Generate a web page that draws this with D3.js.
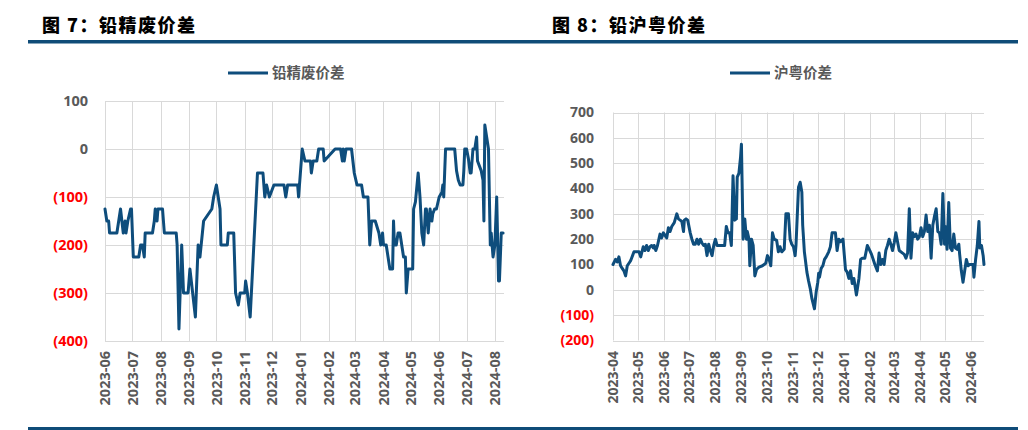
<!DOCTYPE html>
<html>
<head>
<meta charset="utf-8">
<script src="https://cdn.jsdelivr.net/npm/d3@7"></script>
<style>
  html, body { margin: 0; padding: 0; background: #fff; }
  svg { display: block; }
</style>
</head>
<body>
<svg id="chart" width="1028" height="430"></svg>
<script>
// ---------------- DATA ----------------
const leftTitle = "图 7：铅精废价差";
const leftSeriesName = "铅精废价差";
const leftYTicks = [100, 0, -100, -200, -300, -400];
const leftDates = ["2023-06-01","2023-06-03","2023-06-05","2023-06-06","2023-06-14","2023-06-18","2023-06-21","2023-06-23","2023-06-24","2023-06-26","2023-06-29","2023-06-30","2023-07-02","2023-07-08","2023-07-10","2023-07-12","2023-07-14","2023-07-15","2023-07-23","2023-07-25","2023-07-26","2023-07-28","2023-07-29","2023-08-03","2023-08-05","2023-08-18","2023-08-19","2023-08-21","2023-08-24","2023-08-26","2023-08-31","2023-09-02","2023-09-08","2023-09-11","2023-09-13","2023-09-17","2023-09-26","2023-09-28","2023-10-01","2023-10-03","2023-10-05","2023-10-06","2023-10-13","2023-10-14","2023-10-20","2023-10-22","2023-10-25","2023-10-27","2023-11-01","2023-11-02","2023-11-04","2023-11-07","2023-11-11","2023-11-15","2023-11-21","2023-11-23","2023-11-25","2023-11-28","2023-12-03","2023-12-14","2023-12-16","2023-12-18","2023-12-29","2023-12-30","2024-01-03","2024-01-06","2024-01-12","2024-01-13","2024-01-15","2024-01-19","2024-01-21","2024-01-26","2024-01-27","2024-02-08","2024-02-14","2024-02-16","2024-02-17","2024-02-18","2024-02-20","2024-02-26","2024-02-29","2024-03-03","2024-03-08","2024-03-10","2024-03-15","2024-03-17","2024-03-19","2024-03-23","2024-03-27","2024-03-29","2024-03-31","2024-04-01","2024-04-04","2024-04-06","2024-04-08","2024-04-11","2024-04-12","2024-04-13","2024-04-15","2024-04-17","2024-04-19","2024-04-23","2024-04-25","2024-04-26","2024-04-28","2024-05-03","2024-05-04","2024-05-06","2024-05-09","2024-05-11","2024-05-13","2024-05-15","2024-05-17","2024-05-18","2024-05-20","2024-05-22","2024-05-24","2024-05-25","2024-05-27","2024-05-29","2024-06-01","2024-06-04","2024-06-05","2024-06-06","2024-06-07","2024-06-08","2024-06-18","2024-06-20","2024-06-22","2024-06-24","2024-06-27","2024-06-28","2024-06-29","2024-07-01","2024-07-03","2024-07-05","2024-07-06","2024-07-08","2024-07-10","2024-07-12","2024-07-13","2024-07-17","2024-07-19","2024-07-20","2024-07-21","2024-07-23","2024-07-25","2024-07-27","2024-07-28","2024-07-30","2024-08-01","2024-08-03","2024-08-05","2024-08-06","2024-08-08","2024-08-10"];
const leftValues = [-125,-150,-150,-175,-175,-125,-175,-150,-175,-150,-125,-125,-225,-225,-200,-200,-225,-175,-175,-150,-125,-150,-125,-125,-175,-175,-200,-375,-200,-300,-300,-250,-350,-200,-225,-150,-125,-100,-75,-100,-125,-200,-200,-175,-175,-300,-325,-300,-300,-275,-300,-350,-200,-50,-50,-100,-75,-100,-75,-75,-100,-75,-75,-100,0,-25,-25,-50,-25,-25,0,0,-25,0,0,-25,0,-25,0,0,-50,-75,-75,-100,-100,-200,-150,-150,-175,-200,-175,-200,-200,-225,-250,-250,-150,-200,-200,-175,-175,-225,-225,-300,-250,-250,-125,-110,-50,-100,-175,-200,-125,-125,-175,-125,-150,-135,-125,-125,-100,-90,-75,-100,-50,0,0,-45,-65,-75,-75,-45,0,0,-20,-50,-50,0,0,25,-25,-45,-65,-150,50,25,0,-200,-175,-225,-200,-100,-275,-275,-175,-175];

const rightTitle = "图 8：铅沪粤价差";
const rightSeriesName = "沪粤价差";
const rightYTicks = [700, 600, 500, 400, 300, 200, 100, 0, -100, -200];
const rightDates = ["2023-04-01","2023-04-04","2023-04-06","2023-04-08","2023-04-10","2023-04-12","2023-04-14","2023-04-16","2023-04-18","2023-04-21","2023-04-22","2023-04-26","2023-04-30","2023-05-02","2023-05-04","2023-05-07","2023-05-09","2023-05-11","2023-05-13","2023-05-15","2023-05-17","2023-05-19","2023-05-20","2023-05-22","2023-05-24","2023-05-27","2023-05-29","2023-05-31","2023-06-02","2023-06-04","2023-06-06","2023-06-08","2023-06-10","2023-06-13","2023-06-16","2023-06-18","2023-06-20","2023-06-22","2023-06-24","2023-06-25","2023-06-27","2023-06-29","2023-07-02","2023-07-04","2023-07-06","2023-07-08","2023-07-10","2023-07-12","2023-07-14","2023-07-16","2023-07-18","2023-07-20","2023-07-22","2023-07-24","2023-07-26","2023-07-28","2023-07-30","2023-08-01","2023-08-03","2023-08-12","2023-08-14","2023-08-16","2023-08-18","2023-08-20","2023-08-22","2023-08-24","2023-08-26","2023-08-27","2023-08-29","2023-08-31","2023-09-01","2023-09-03","2023-09-05","2023-09-07","2023-09-08","2023-09-10","2023-09-11","2023-09-13","2023-09-15","2023-09-17","2023-09-19","2023-09-22","2023-09-26","2023-09-30","2023-10-02","2023-10-04","2023-10-06","2023-10-08","2023-10-10","2023-10-13","2023-10-15","2023-10-17","2023-10-19","2023-10-22","2023-10-24","2023-10-27","2023-10-29","2023-10-31","2023-11-02","2023-11-04","2023-11-05","2023-11-08","2023-11-10","2023-11-12","2023-11-13","2023-11-15","2023-11-18","2023-11-20","2023-11-22","2023-11-24","2023-11-27","2023-11-29","2023-12-01","2023-12-02","2023-12-03","2023-12-05","2023-12-07","2023-12-09","2023-12-11","2023-12-14","2023-12-16","2023-12-18","2023-12-22","2023-12-24","2023-12-26","2023-12-28","2023-12-31","2024-01-02","2024-01-03","2024-01-05","2024-01-07","2024-01-09","2024-01-11","2024-01-13","2024-01-16","2024-01-19","2024-01-21","2024-01-23","2024-01-26","2024-01-29","2024-02-01","2024-02-03","2024-02-07","2024-02-10","2024-02-12","2024-02-14","2024-02-16","2024-02-18","2024-02-20","2024-02-22","2024-02-24","2024-02-26","2024-02-28","2024-03-01","2024-03-03","2024-03-05","2024-03-07","2024-03-11","2024-03-13","2024-03-15","2024-03-17","2024-03-19","2024-03-21","2024-03-23","2024-03-25","2024-03-27","2024-03-29","2024-03-31","2024-04-02","2024-04-04","2024-04-06","2024-04-08","2024-04-10","2024-04-12","2024-04-14","2024-04-16","2024-04-18","2024-04-20","2024-04-22","2024-04-24","2024-04-26","2024-04-28","2024-04-30","2024-05-01","2024-05-03","2024-05-05","2024-05-07","2024-05-09","2024-05-11","2024-05-13","2024-05-15","2024-05-17","2024-05-18","2024-05-20","2024-05-22","2024-05-24","2024-05-26","2024-05-28","2024-05-30","2024-06-03","2024-06-04","2024-06-06","2024-06-08","2024-06-10","2024-06-11","2024-06-13","2024-06-15","2024-06-16"];
const rightValues = [100,120,110,130,95,85,75,55,95,110,115,150,150,150,130,170,155,175,155,170,175,165,175,155,175,220,205,225,215,205,245,230,250,265,300,280,275,270,230,275,280,275,225,200,180,180,200,180,200,185,175,180,135,180,155,135,175,200,175,175,250,225,225,175,450,275,280,445,460,525,575,200,280,200,230,200,95,200,175,55,80,90,95,105,135,120,95,225,200,195,150,170,150,160,300,300,200,180,170,135,175,405,425,385,255,150,70,35,5,-35,-75,-10,30,65,50,85,95,120,130,150,170,225,225,155,200,190,200,120,80,70,45,75,25,45,-20,45,120,125,125,175,155,140,100,75,145,100,120,100,155,175,200,180,155,185,225,190,155,145,140,125,145,320,125,225,210,220,200,210,245,210,230,295,230,255,125,255,290,320,230,225,180,380,180,250,160,345,165,155,220,165,160,180,140,75,30,75,120,95,100,100,50,120,175,270,165,175,135,100];

// ---------------- DRAWING ----------------
const svg = d3.select("#chart");
const parse = d3.timeParse("%Y-%m-%d");
const LINE_COLOR = "#0e4d7c";
const RULE_COLOR = "#0f4c78";
const GRID = "#d9d9d9";
const LABEL_GRAY = "#595959";
const NUM_FONT = "'Open Sans', 'Liberation Sans', sans-serif";
const CJK_FONT = "'Noto Sans CJK SC', sans-serif";

// header and footer rules
svg.append("rect").attr("x", 28).attr("y", 40).attr("width", 990).attr("height", 3.5).attr("fill", RULE_COLOR);
svg.append("rect").attr("x", 28).attr("y", 427).attr("width", 990).attr("height", 3).attr("fill", RULE_COLOR);

function fmtY(v) { return v < 0 ? "(" + Math.abs(v) + ")" : String(v); }

function drawChart(cfg) {
  const g = svg.append("g");
  // title
  g.append("text").attr("x", cfg.titleX).attr("y", 32)
    .attr("font-family", CJK_FONT).attr("font-weight", 900).attr("font-size", 18)
    .attr("letter-spacing", 1.5).attr("fill", "#000").text(cfg.title);

  const dates = cfg.dates.map(parse);
  const data = dates.map((d, i) => ({ d, v: cfg.values[i] }));

  const x = d3.scaleTime().domain(cfg.xDomain.map(parse)).range([cfg.x0, cfg.x1]);
  const y = d3.scaleLinear().domain([d3.min(cfg.yTicks), d3.max(cfg.yTicks)]).range([cfg.yBottom, cfg.yTop]);

  const months = d3.timeMonth.range(parse(cfg.xDomain[0]), d3.timeDay.offset(parse(cfg.xDomain[1]), 1));

  // horizontal gridlines
  g.append("g").selectAll("line").data(cfg.yTicks).join("line")
    .attr("x1", cfg.x0).attr("x2", cfg.x1)
    .attr("y1", d => Math.round(y(d)) + 0.5).attr("y2", d => Math.round(y(d)) + 0.5)
    .attr("stroke", GRID).attr("stroke-width", 1);
  // vertical gridlines (monthly)
  g.append("g").selectAll("line").data(months).join("line")
    .attr("x1", d => Math.round(x(d)) + 0.5).attr("x2", d => Math.round(x(d)) + 0.5)
    .attr("y1", cfg.yTop).attr("y2", cfg.yBottom)
    .attr("stroke", GRID).attr("stroke-width", 1);

  // y labels
  g.append("g").selectAll("text").data(cfg.yTicks).join("text")
    .attr("x", cfg.yLabelX).attr("y", d => y(d)).attr("dy", "0.35em")
    .attr("text-anchor", "end")
    .attr("font-family", NUM_FONT).attr("font-weight", 700).attr("font-size", cfg.fs)
    .attr("fill", d => d < 0 ? "#ff0000" : LABEL_GRAY)
    .text(fmtY);

  // x labels
  const fmtX = d3.timeFormat("%Y-%m");
  g.append("g").selectAll("text").data(months).join("text")
    .attr("transform", d => `translate(${x(d)},${cfg.xLabelY}) rotate(-90)`)
    .attr("dy", "0.36em").attr("text-anchor", "end")
    .attr("font-family", NUM_FONT).attr("font-weight", 700).attr("font-size", cfg.fs)
    .attr("fill", LABEL_GRAY).text(fmtX);

  // series line
  const line = d3.line().x(p => x(p.d)).y(p => y(p.v)).curve(d3.curveLinear);
  g.append("path").datum(data).attr("d", line)
    .attr("fill", "none").attr("stroke", LINE_COLOR).attr("stroke-width", 3)
    .attr("stroke-linejoin", "round").attr("stroke-linecap", "round");

  // legend
  g.append("line").attr("x1", cfg.legendX).attr("x2", cfg.legendX + 40)
    .attr("y1", 73).attr("y2", 73).attr("stroke", LINE_COLOR).attr("stroke-width", 3);
  g.append("text").attr("x", cfg.legendX + 44).attr("y", 73).attr("dy", "0.35em")
    .attr("font-family", CJK_FONT).attr("font-weight", 700).attr("font-size", 14.5)
    .attr("fill", LABEL_GRAY).text(cfg.seriesName);
}

drawChart({
  title: leftTitle, titleX: 42, seriesName: leftSeriesName,
  dates: leftDates, values: leftValues, yTicks: leftYTicks,
  xDomain: ["2023-06-01", "2024-08-11"],
  x0: 105, x1: 504, yTop: 101, yBottom: 341,
  yLabelX: 88, xLabelY: 351, legendX: 228, fs: 14.5
});

drawChart({
  title: rightTitle, titleX: 552, seriesName: rightSeriesName,
  dates: rightDates, values: rightValues, yTicks: rightYTicks,
  xDomain: ["2023-04-01", "2024-06-16"],
  x0: 613, x1: 984, yTop: 112.5, yBottom: 340.5,
  yLabelX: 594, xLabelY: 351, legendX: 730, fs: 14
});
</script>
</body>
</html>
